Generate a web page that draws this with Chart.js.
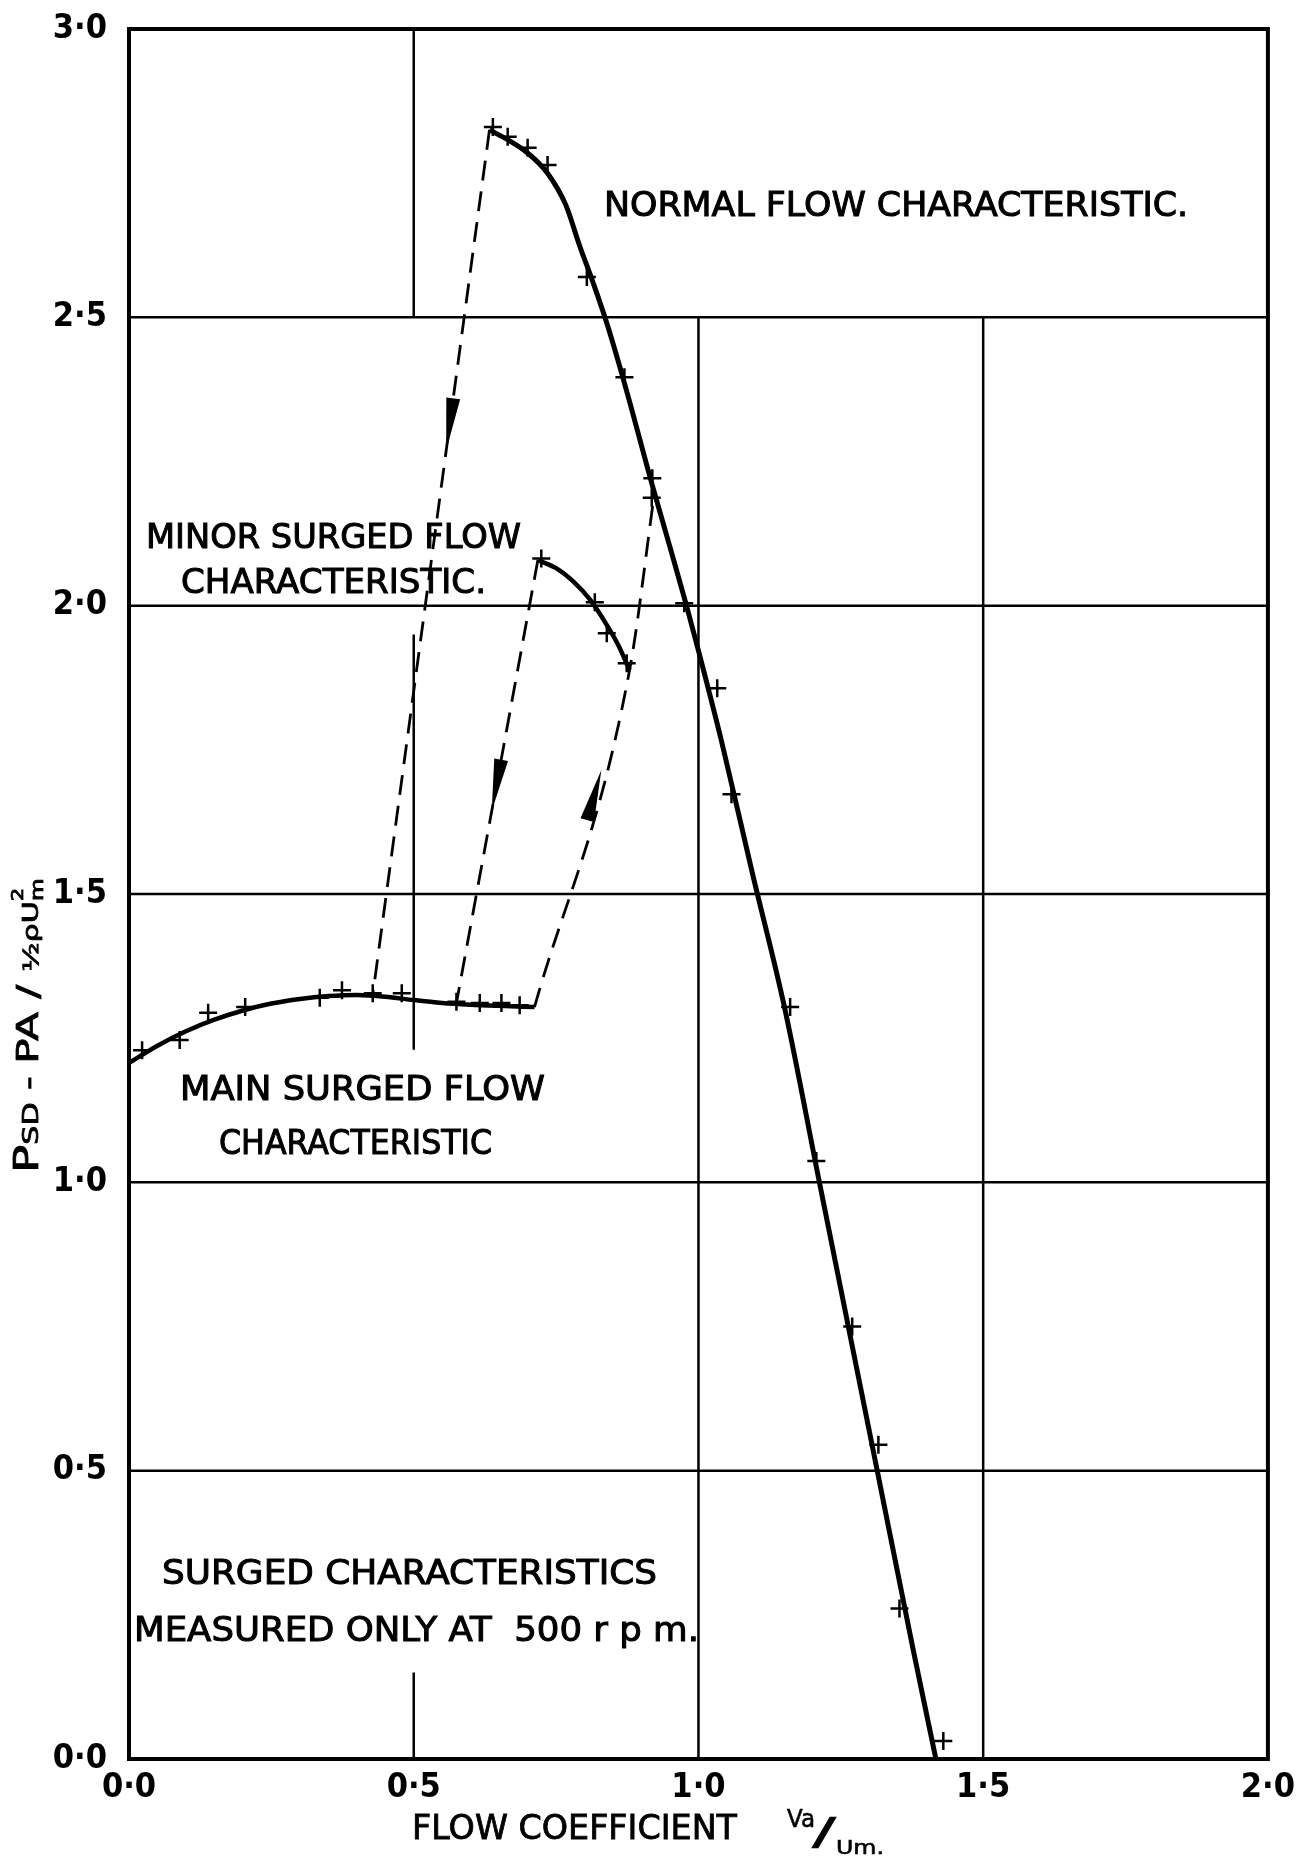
<!DOCTYPE html>
<html>
<head>
<meta charset="utf-8">
<script src="https://cdn.jsdelivr.net/npm/chart.js@4"></script>
<style>
  body { margin: 0; background: #fff; }
</style>
</head>
<body>
<canvas id="chart" width="1304" height="1857"></canvas>
<script>
// tick labels
const xTickLabels = ['0·0', '0·5', '1·0', '1·5', '2·0'];
const yTickLabels = ['0·0', '0·5', '1·0', '1·5', '2·0', '2·5', '3·0'];

// faired curves
const normalCurveX = [0.633, 0.665, 0.700, 0.735, 0.767, 0.791, 0.815, 0.839, 0.870, 0.920, 0.949, 0.979, 1.000, 1.040, 1.095, 1.151, 1.213, 1.314, 1.377, 1.417];
const normalCurveY = [2.825, 2.808, 2.785, 2.750, 2.695, 2.625, 2.560, 2.490, 2.386, 2.205, 2.105, 2.000, 1.922, 1.767, 1.535, 1.304, 0.997, 0.500, 0.190, 0.000];

const mainCurveX = [0.000, 0.050, 0.100, 0.150, 0.200, 0.250, 0.300, 0.350, 0.400, 0.450, 0.500, 0.550, 0.600, 0.650, 0.712];
const mainCurveY = [1.207, 1.237, 1.262, 1.282, 1.298, 1.310, 1.318, 1.323, 1.325, 1.322, 1.316, 1.311, 1.308, 1.306, 1.304];

const minorCurveX = [0.718, 0.750, 0.780, 0.810, 0.840, 0.860, 0.879];
const minorCurveY = [2.079, 2.065, 2.042, 2.010, 1.965, 1.930, 1.888];

// measured points (+)
const normalPtsX = [0.639, 0.665, 0.700, 0.735, 0.804, 0.870, 0.919, 0.918, 0.975, 1.033, 1.058, 1.161, 1.207, 1.270, 1.316, 1.353, 1.430];
const normalPtsY = [2.830, 2.813, 2.794, 2.764, 2.570, 2.396, 2.221, 2.187, 2.004, 1.857, 1.673, 1.304, 1.037, 0.750, 0.545, 0.261, 0.031];

const mainPtsX = [0.023, 0.089, 0.139, 0.204, 0.335, 0.374, 0.428, 0.479, 0.575, 0.616, 0.654, 0.686];
const mainPtsY = [1.229, 1.247, 1.294, 1.304, 1.320, 1.333, 1.328, 1.328, 1.313, 1.311, 1.311, 1.307];

const minorPtsX = [0.724, 0.818, 0.839, 0.874];
const minorPtsY = [2.082, 2.006, 1.952, 1.900];

// dashed transition paths
const dashPeakX = [0.633, 0.428];
const dashPeakY = [2.825, 1.325];
const dashDownX = [0.718, 0.575];
const dashDownY = [2.079, 1.311];
const dashUpX = [0.712, 0.879, 0.922];
const dashUpY = [1.304, 1.888, 2.190];

// arrow tips: [path x, path y, tip y, direction (-1 down, 1 up)]
const arrows = [
  [dashPeakX, dashPeakY, 2.27, -1],
  [dashDownX, dashDownY, 1.644, -1],
  [dashUpX, dashUpY, 1.715, 1]
];

function pts(xs, ys) {
  return xs.map((x, i) => ({ x: x, y: ys[i] }));
}

// grid segments, broken like the original sheet
const hGrid = [[0.5, 0, 2], [1.0, 0, 2], [1.5, 0, 2], [2.0, 0, 2], [2.5, 0, 2]];
const vGrid = [[0.5, 2.5, 3.0], [0.5, 1.23, 1.95], [0.5, 0, 0.15], [1.0, 0, 2.5], [1.5, 0, 2.5]];

const notes = [
  { text: 'NORMAL FLOW CHARACTERISTIC.', x: 604, y: 207, w: 584 },
  { text: 'MINOR SURGED FLOW', x: 146, y: 539, w: 375 },
  { text: 'CHARACTERISTIC.', x: 181, y: 584, w: 305 },
  { text: 'MAIN SURGED FLOW', x: 180, y: 1091, w: 365 },
  { text: 'CHARACTERISTIC', x: 219, y: 1145, w: 273 },
  { text: 'SURGED CHARACTERISTICS', x: 162, y: 1575, w: 495 },
  { text: 'MEASURED ONLY AT  500 r p m.', x: 134, y: 1632, w: 565 }
];

const FONT = '"DejaVu Sans", sans-serif';
const TICKFONT = '"DejaVu Sans Condensed", "DejaVu Sans"';

function fitText(ctx, text, left, midY, width, font, weight) {
  ctx.font = font;
  const w = ctx.measureText(text).width;
  ctx.save();
  ctx.translate(left, midY);
  ctx.scale(width / w, 1);
  ctx.textAlign = 'left';
  ctx.textBaseline = 'middle';
  ctx.fillText(text, 0, 0);
  if (weight) {
    ctx.lineWidth = weight;
    ctx.strokeText(text, 0, 0);
  }
  ctx.restore();
}

const extras = {
  id: 'extras',
  beforeDatasetsDraw(chart) {
    const { ctx, chartArea: a } = chart;
    const x = chart.scales.x, y = chart.scales.y;
    ctx.save();
    ctx.strokeStyle = '#000';
    ctx.lineWidth = 2.5;
    ctx.beginPath();
    for (const [v, from, to] of hGrid) {
      ctx.moveTo(x.getPixelForValue(from), y.getPixelForValue(v));
      ctx.lineTo(x.getPixelForValue(to), y.getPixelForValue(v));
    }
    for (const [v, from, to] of vGrid) {
      ctx.moveTo(x.getPixelForValue(v), y.getPixelForValue(from));
      ctx.lineTo(x.getPixelForValue(v), y.getPixelForValue(to));
    }
    ctx.stroke();
    ctx.lineWidth = 4;
    ctx.strokeRect(a.left, a.top, a.right - a.left, a.bottom - a.top);
    ctx.restore();
  },
  afterDatasetsDraw(chart) {
    const { ctx } = chart;
    const x = chart.scales.x, y = chart.scales.y;
    ctx.save();
    ctx.fillStyle = '#000';
    for (const [px, py, tipY, dir] of arrows) {
      for (let i = 0; i < px.length - 1; i++) {
        const lo = Math.min(py[i], py[i + 1]), hi = Math.max(py[i], py[i + 1]);
        if (tipY < lo || tipY > hi) continue;
        const t = (tipY - py[i]) / (py[i + 1] - py[i]);
        const tx = x.getPixelForValue(px[i] + t * (px[i + 1] - px[i]));
        const ty = y.getPixelForValue(tipY);
        // pixel direction of increasing data y along the segment
        let dx = x.getPixelForValue(px[i + 1]) - x.getPixelForValue(px[i]);
        let dy = y.getPixelForValue(py[i + 1]) - y.getPixelForValue(py[i]);
        if (py[i + 1] < py[i]) { dx = -dx; dy = -dy; }
        const len = Math.hypot(dx, dy);
        const ux = dx / len * dir, uy = dy / len * dir;
        const L = 52, hw = 7;
        const bx = tx - ux * L, by = ty - uy * L;
        ctx.beginPath();
        ctx.moveTo(tx, ty);
        ctx.lineTo(bx - uy * hw, by + ux * hw);
        ctx.lineTo(bx + uy * hw, by - ux * hw);
        ctx.closePath();
        ctx.fill();
        break;
      }
    }
    ctx.restore();
  },
  afterDraw(chart) {
    const { ctx } = chart;
    ctx.save();
    ctx.fillStyle = '#000';
    ctx.strokeStyle = '#000';
    for (const n of notes) {
      fitText(ctx, n.text, n.x, n.y, n.w, '33px ' + FONT, 1);
    }

    // x axis title
    fitText(ctx, 'FLOW COEFFICIENT', 412, 1830, 325, '33px ' + FONT, 0.8);
    fitText(ctx, 'Va', 787, 1820, 28, '25px ' + FONT, 0.6);
    fitText(ctx, '/', 812, 1834, 24, '38px ' + FONT, 0.6);
    fitText(ctx, 'Um.', 836, 1849, 48, '20px ' + FONT, 0.6);

    // y axis title, rotated
    const parts = [
      ['P', 34, 0, true], ['SD', 22, 0, true], [' - ', 28, 0, true], ['PA', 31, 0, true],
      [' / ', 30, 0, true], ['½ρU', 22, 0, true], ['m', 17, 5, false], ['2', 15, -15, true]
    ];
    let total = 0;
    const widths = [];
    for (const [t, s] of parts) {
      ctx.font = s + 'px ' + FONT;
      widths.push(ctx.measureText(t).width);
    }
    for (let i = 0; i < parts.length; i++) {
      if (parts[i][3]) total += widths[i];
    }
    const k = 285 / total;
    ctx.translate(38, 1173);
    ctx.rotate(-Math.PI / 2);
    ctx.scale(k, 1);
    ctx.textAlign = 'left';
    ctx.textBaseline = 'alphabetic';
    ctx.lineWidth = 0.8;
    let pos = 0;
    for (let i = 0; i < parts.length; i++) {
      const [t, s, off, adv] = parts[i];
      ctx.font = s + 'px ' + FONT;
      ctx.fillText(t, pos, off);
      ctx.strokeText(t, pos, off);
      if (adv) pos += widths[i];
    }
    ctx.restore();
  }
};

const lineBase = { showLine: true, pointRadius: 0, borderColor: '#000', cubicInterpolationMode: 'monotone', fill: false };
const markBase = { showLine: false, pointStyle: 'cross', pointRadius: 9, borderColor: '#000', borderWidth: 2.5, pointBorderWidth: 2.5 };

new Chart(document.getElementById('chart'), {
  type: 'scatter',
  data: {
    datasets: [
      Object.assign({ data: pts(dashPeakX, dashPeakY), borderWidth: 2.8, borderDash: [20, 11] }, lineBase),
      Object.assign({ data: pts(dashDownX, dashDownY), borderWidth: 2.8, borderDash: [20, 11] }, lineBase),
      Object.assign({ data: pts(dashUpX, dashUpY), borderWidth: 2.8, borderDash: [20, 11] }, lineBase),
      Object.assign({ data: pts(normalCurveX, normalCurveY), borderWidth: 5 }, lineBase),
      Object.assign({ data: pts(mainCurveX, mainCurveY), borderWidth: 4.5 }, lineBase),
      Object.assign({ data: pts(minorCurveX, minorCurveY), borderWidth: 4.5 }, lineBase),
      Object.assign({ data: pts(normalPtsX, normalPtsY) }, markBase),
      Object.assign({ data: pts(mainPtsX, mainPtsY) }, markBase),
      Object.assign({ data: pts(minorPtsX, minorPtsY) }, markBase)
    ]
  },
  options: {
    responsive: false,
    animation: false,
    devicePixelRatio: 1,
    layout: { padding: { top: 29, right: 35, left: 0, bottom: 0 } },
    plugins: { legend: { display: false }, tooltip: { enabled: false } },
    scales: {
      x: {
        type: 'linear', min: 0, max: 2,
        ticks: {
          stepSize: 0.5, autoSkip: false, maxRotation: 0, color: '#000', padding: 9,
          font: { family: TICKFONT, size: 34, weight: 'bold' },
          callback: (v, i) => xTickLabels[i]
        },
        grid: { display: false, drawTicks: false },
        border: { display: false },
        afterFit(s) { s.height = 98; }
      },
      y: {
        type: 'linear', min: 0, max: 3,
        ticks: {
          stepSize: 0.5, autoSkip: false, color: '#000', padding: 22,
          font: { family: TICKFONT, size: 34, weight: 'bold', lineHeight: 0.3 },
          callback: (v, i) => yTickLabels[i]
        },
        grid: { display: false, drawTicks: false },
        border: { display: false },
        afterFit(s) { s.width = 129; }
      }
    }
  },
  plugins: [extras]
});
</script>
</body>
</html>
